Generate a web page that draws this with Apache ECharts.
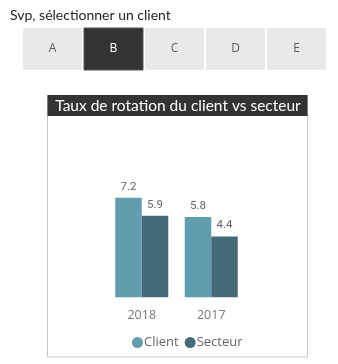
<!DOCTYPE html>
<html><head><meta charset="utf-8">
<script src="https://cdn.jsdelivr.net/npm/echarts@6/dist/echarts.min.js"></script>
<style>html,body{margin:0;padding:0;background:#fff}#c{width:338px;height:364px}</style>
</head><body><div id="c"></div>
<script>
const categories = ['2018', '2017'];
const clientValues = [7.2, 5.8];
const secteurValues = [5.9, 4.4];
const seriesNames = ['Client', 'Secteur'];
const buttonLabels = ['A', 'B', 'C', 'D', 'E'];
const selectedButton = 'B';

const chart = echarts.init(document.getElementById('c'), null, {renderer: 'canvas'});
const FONT = 'Lato, "Open Sans", sans-serif';
const FONT2 = '"Open Sans", "DejaVu Sans", sans-serif';

const graphics = [];
graphics.push({type: 'text', left: 10, top: 8, style: {text: 'Svp, sélectionner un client', font: '14px ' + FONT, fill: '#252423'}});
buttonLabels.forEach((b, i) => {
  const x = 23 + i * 61;
  const sel = b === selectedButton;
  graphics.push({type: 'rect', shape: {x: x, y: 28, width: 59, height: 42},
    style: {fill: sel ? '#333333' : '#e9e9e9', stroke: sel ? '#555' : null, lineWidth: 1}});
  graphics.push({type: 'text', x: x + 29.5, y: 49, style: {text: b, font: '12px ' + FONT2, fill: sel ? '#ffffff' : '#605e5c', align: 'center', verticalAlign: 'middle'}});
});
graphics.push({type: 'rect', shape: {x: 47.5, y: 95.5, width: 260, height: 261.5}, style: {fill: 'none', stroke: '#c8c8c8', lineWidth: 1}, z: 1});
graphics.push({type: 'rect', shape: {x: 47.5, y: 95, width: 260, height: 21}, style: {fill: '#333333'}, z: 2});
graphics.push({type: 'text', x: 178, y: 106, style: {text: 'Taux de rotation du client vs secteur', font: '15.5px ' + FONT, fill: '#ffffff', align: 'center', verticalAlign: 'middle'}, z: 3});

chart.setOption({
  animation: false,
  graphic: graphics,
  grid: {left: 107, width: 139, top: 159, height: 138.3},
  xAxis: {type: 'category', data: categories, axisLine: {show: false}, axisTick: {show: false},
    axisLabel: {color: '#777', fontSize: 12.5, fontFamily: FONT2, margin: 12}},
  yAxis: {type: 'value', min: 0, max: 10, show: false},
  legend: {data: seriesNames, left: 127, top: 331, itemWidth: 11, itemHeight: 11, itemGap: 6, icon: 'circle',
    textStyle: {color: '#666', fontSize: 13, fontFamily: FONT2, padding: [0, 0, 0, -4]}},
  series: [
    {name: seriesNames[0], type: 'bar', data: clientValues, barWidth: 26.5, barGap: '0%',
      itemStyle: {color: '#609dae'},
      label: {show: true, position: 'top', distance: 5, color: '#666', fontSize: 11.5, fontFamily: 'Roboto, sans-serif'}},
    {name: seriesNames[1], type: 'bar', data: secteurValues, barWidth: 26.5,
      itemStyle: {color: '#446b77'},
      label: {show: true, position: 'top', distance: 5, color: '#666', fontSize: 11.5, fontFamily: 'Roboto, sans-serif'}}
  ]
});
</script></body></html>
